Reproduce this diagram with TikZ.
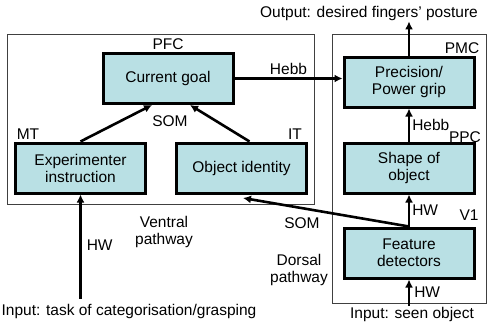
\documentclass[tikz,border=0pt]{standalone}
\usepackage{fontspec}
\setmainfont{Liberation Sans}
\usepackage{tikz}
\usetikzlibrary{calc, arrows.meta}
\definecolor{boxfill}{RGB}{185,224,228}
\tikzstyle{area}=[draw=black!75, line width=0.9pt]
\tikzstyle{module}=[draw, line width=3pt, fill=boxfill, minimum width=130, minimum height=50, align=center, inner sep=2pt, font=\fontsize{15.5}{17}\selectfont]
\tikzstyle{tag}=[font=\fontsize{15.5}{17}\selectfont, inner sep=1pt, align=center]
\tikzstyle{link}=[line width=2.6pt, -{Latex[length=8pt, width=8pt]}]

\begin{document}
\begin{tikzpicture}[x=1pt, y=-1pt]
        \useasboundingbox (0,0) rectangle (488,324);
        % ventral and dorsal areas
        \draw[area] (7,34) rectangle (314,204);
        \draw[area] (332,34) rectangle (486,303);
        % modules
        \node[module] (goal) at (168,78.5) {Current goal};
        \node[module] (instr) at (80.5,168) {Experimenter\\instruction};
        \node[module] (ident) at (241.5,168) {Object identity};
        \node[module] (grip) at (409,82) {Precision/\\Power grip};
        \node[module] (shape) at (409,168) {Shape of\\object};
        \node[module] (feat) at (409,253) {Feature\\detectors};
        % area names
        \node[tag] (pfc) at (168,44) {PFC};
        \node[tag] (mt) at (28,134) {MT};
        \node[tag] (it) at (295,134) {IT};
        \node[tag] (pmc) at (462,48) {PMC};
        \node[tag] (ppc) at (465,137) {PPC};
        \node[tag] (vone) at (469,215) {V1};
        % inputs and output
        \node[tag] (out) at (369,13) {Output: desired fingers' posture};
        \node[tag] (task) at (129,311) {Input: task of categorisation/grasping};
        \node[tag] (seen) at (412,314) {Input: seen object};
        \node[tag] (ventral) at (164,232) {Ventral\\pathway};
        \node[tag] (dorsal) at (299,270) {Dorsal\\pathway};
        \coordinate (somin) at (243,198);
        % connections
        \draw[link] (goal.east) -- (goal.east -| grip.west) node[midway, above, tag, yshift=2pt]{Hebb};
        \draw[link] (instr.north) -- ($(goal.south)+(-16,0)$);
        \draw[link] ($(ident.north)+(8,0)$) -- ($(goal.south)+(22,0)$);
        \node[tag] (somtop) at (170,121) {SOM};
        \draw[link] (shape.north) -- (grip.south) node[midway, right, tag, xshift=1pt]{Hebb};
        \draw[link] (feat.north) -- (shape.south) node[midway, right, tag, xshift=1pt]{HW};
        \draw[link] (grip.north) -- (grip.north |- out.south);
        \draw[link] (feat.north) -- (somin);
        \node[tag] (somlow) at (302,223) {SOM};
        \draw[link] (seen.north -| feat.south) -- (feat.south) node[midway, right, tag, xshift=3pt]{HW};
        \draw[link] ($(task.north -| instr.south)+(0,-4)$) -- (instr.south) node[midway, right, tag, xshift=4pt, yshift=1pt]{HW};
    \end{tikzpicture}
\end{document}
